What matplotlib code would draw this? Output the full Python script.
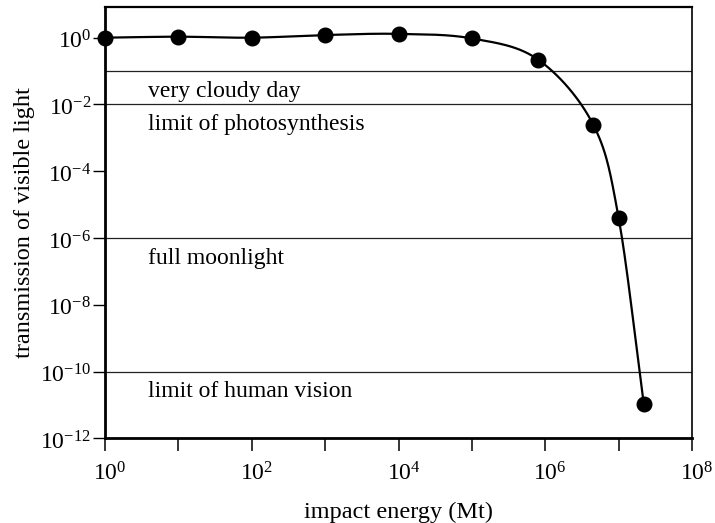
import numpy as np
import matplotlib
matplotlib.use("Agg")
import matplotlib.pyplot as plt
import matplotlib.transforms as mtransforms
from matplotlib.ticker import FixedLocator, FuncFormatter, NullFormatter

# data
impact_energy = [1, 10, 100, 1e3, 1e4, 1e5, 8e5, 4.5e6, 1e7, 2.2e7]
transmission = [1.0, 1.07, 1.0, 1.2, 1.3, 0.95, 0.22, 2.5e-3, 4e-6, 1.1e-11]

ref_levels = [1e-1, 1e-2, 1e-6, 1e-10]
ref_labels = ["very cloudy day", "limit of photosynthesis", "full moonlight", "limit of human vision"]

x_major = [1, 1e2, 1e4, 1e6, 1e8]
x_minor = [1e1, 1e3, 1e5, 1e7]
y_major = [1, 1e-2, 1e-4, 1e-6, 1e-8, 1e-10, 1e-12]

plt.rcParams['font.family'] = ['Liberation Serif', 'DejaVu Serif']
plt.rcParams['mathtext.fontset'] = 'custom'
plt.rcParams['mathtext.rm'] = 'Liberation Serif'
plt.rcParams['mathtext.it'] = 'Liberation Serif:italic'


def smooth_curve(xs, ys, n=30):
    """Catmull-Rom line through the points, in log-log space."""
    pts = np.column_stack([np.log10(xs), np.log10(ys)])
    pad = np.vstack([2 * pts[0] - pts[1], pts, 2 * pts[-1] - pts[-2]])
    t = np.linspace(0, 1, n, endpoint=False)[:, None]
    segs = []
    for i in range(1, len(pad) - 2):
        p0, p1, p2, p3 = pad[i - 1:i + 3]
        segs.append(0.5 * (2 * p1 + (p2 - p0) * t
                           + (2 * p0 - 5 * p1 + 4 * p2 - p3) * t ** 2
                           + (3 * p1 - p0 - 3 * p2 + p3) * t ** 3))
    segs.append(pts[-1:])
    out = 10 ** np.vstack(segs)
    return out[:, 0], out[:, 1]


fig = plt.figure(figsize=(7.15, 5.23), dpi=100)
ax = fig.add_axes([105 / 715, 1 - 438.3 / 523, 587 / 715, (438.3 - 7.3) / 523])
ax.set_xscale('log')
ax.set_yscale('log')
ax.set_xlim(1, 1e8)
ax.set_ylim(1e-12, 10 ** 0.91)

# reference light levels
for level, label in zip(ref_levels, ref_labels):
    ax.axhline(level, color='#222222', linewidth=0.9, zorder=1)
    ax.annotate(label, xy=(0.073, level), xycoords=ax.get_yaxis_transform(),
                xytext=(0, -18.5), textcoords='offset points',
                va='baseline', ha='left', fontsize=17)

cx, cy = smooth_curve(impact_energy, transmission)
ax.plot(cx, cy, color='black', linewidth=1.6, zorder=2)
ax.plot(impact_energy, transmission, 'o', color='black', markersize=10.5,
        zorder=3, clip_on=False)

def pow_label(v, pos):
    return r'$10^{%d}$' % int(round(np.log10(v)))

ax.xaxis.set_major_locator(FixedLocator(x_major))
ax.xaxis.set_minor_locator(FixedLocator(x_minor))
ax.xaxis.set_major_formatter(FuncFormatter(pow_label))
ax.xaxis.set_minor_formatter(NullFormatter())
ax.yaxis.set_major_locator(FixedLocator(y_major))
ax.yaxis.set_minor_locator(FixedLocator([]))
ax.yaxis.set_major_formatter(FuncFormatter(pow_label))

ax.tick_params(axis='x', which='both', direction='out', length=9, width=1.1,
               labelsize=17, pad=8)
ax.tick_params(axis='y', which='major', direction='out', length=9, width=1.0,
               labelsize=17, pad=1)

# nudge tick labels the way the original sits them
fig.canvas.draw()
shift_x = mtransforms.ScaledTranslation(5 / 100, 0, fig.dpi_scale_trans)
for lbl in ax.get_xticklabels():
    lbl.set_transform(lbl.get_transform() + shift_x)
shift_y = mtransforms.ScaledTranslation(0, -2 / 100, fig.dpi_scale_trans)
for lbl in ax.get_yticklabels():
    lbl.set_transform(lbl.get_transform() + shift_y)

ax.spines['left'].set_linewidth(2.0)
ax.spines['bottom'].set_linewidth(2.0)
ax.spines['top'].set_linewidth(1.6)
ax.spines['right'].set_linewidth(1.2)

ax.set_xlabel('impact energy (Mt)', fontsize=17.5, labelpad=12)
ax.set_ylabel('transmission of visible light', fontsize=17.5, labelpad=4)

fig.savefig('out.png', dpi=100)
